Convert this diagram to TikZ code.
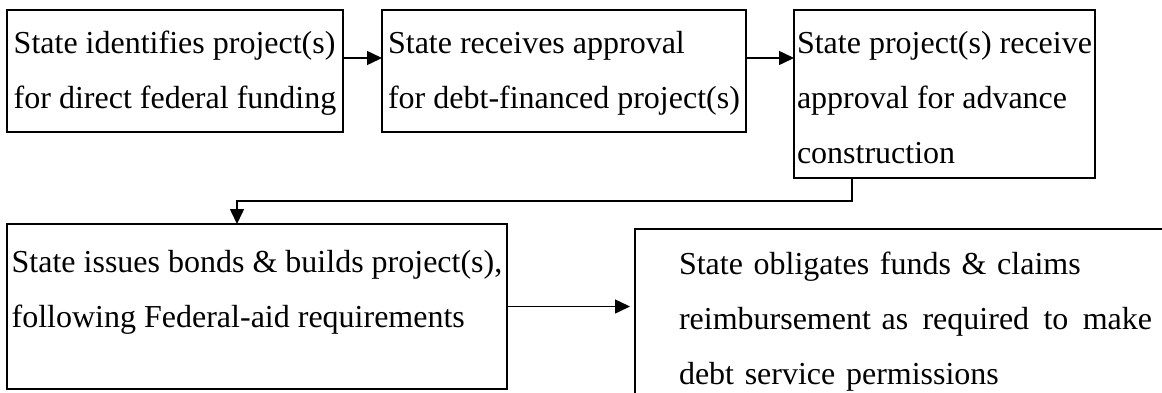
\documentclass[tikz,border=0pt]{standalone}
\usepackage{fontspec}
\setmainfont{Liberation Serif}
\usetikzlibrary{positioning,arrows.meta}

\tikzset{
  stepbox/.style={draw, line width=1pt, outer sep=0pt, inner ysep=0pt, inner xsep=0.5pt,
    align=left, font=\fontsize{16pt}{27.5pt}\selectfont},
}

\begin{document}
\begin{tikzpicture}[>={Triangle[length=7.5pt,width=7pt]}, line width=0.75pt]
    \useasboundingbox (0,0) rectangle (581pt,-196pt);
    \clip (0,0) rectangle (581pt,-196pt);

    % top row
    \node[stepbox, minimum width=168pt, text height=49pt, text depth=12pt,
      anchor=north west] (ident) at (3.5pt,-5pt)
      {State identifies project(s)\\for direct federal funding};
    \node[stepbox, minimum width=182pt, text height=49pt, text depth=12pt,
      right=19.5pt of ident.north east, anchor=north west] (approv)
      {State receives approval\\for debt-financed project(s)};
    \node[stepbox, minimum width=150.5pt, text height=76.5pt, text depth=7.5pt,
      right=24pt of approv.north east, anchor=north west] (advcon)
      {State project(s) receive\\approval for advance\\construction};

    % bottom row
    \node[stepbox, minimum width=250pt, text height=51.5pt, text depth=31pt,
      below=46pt of ident.south west, anchor=north west] (bonds)
      {State issues bonds \& builds project(s),\\following Federal-aid requirements};
    \node[stepbox, text width=236.5pt, inner xsep=22pt, text height=22.5pt, text depth=100pt,
      right=64pt of bonds.north east, anchor=north west, yshift=-2.5pt] (oblig)
      {State obligates funds \& claims\\
       reimbursement as\hfill required\hfill to\hfill make\\
       debt service permissions};

    % connectors
    \draw[->] ([yshift=6.5pt]ident.east) -- ([yshift=6.5pt]ident.east -| approv.west);
    \draw[->] ([yshift=6.5pt]approv.east) -- ([yshift=6.5pt]approv.east -| advcon.west);
    \draw[->] ([xshift=-46.25pt]advcon.south) |- ++(0,-11.5pt) -| ([xshift=-10pt]bonds.north);
    \draw[->, shorten >=2.5pt] (bonds.east) -- (bonds.east -| oblig.west);
\end{tikzpicture}
\end{document}
